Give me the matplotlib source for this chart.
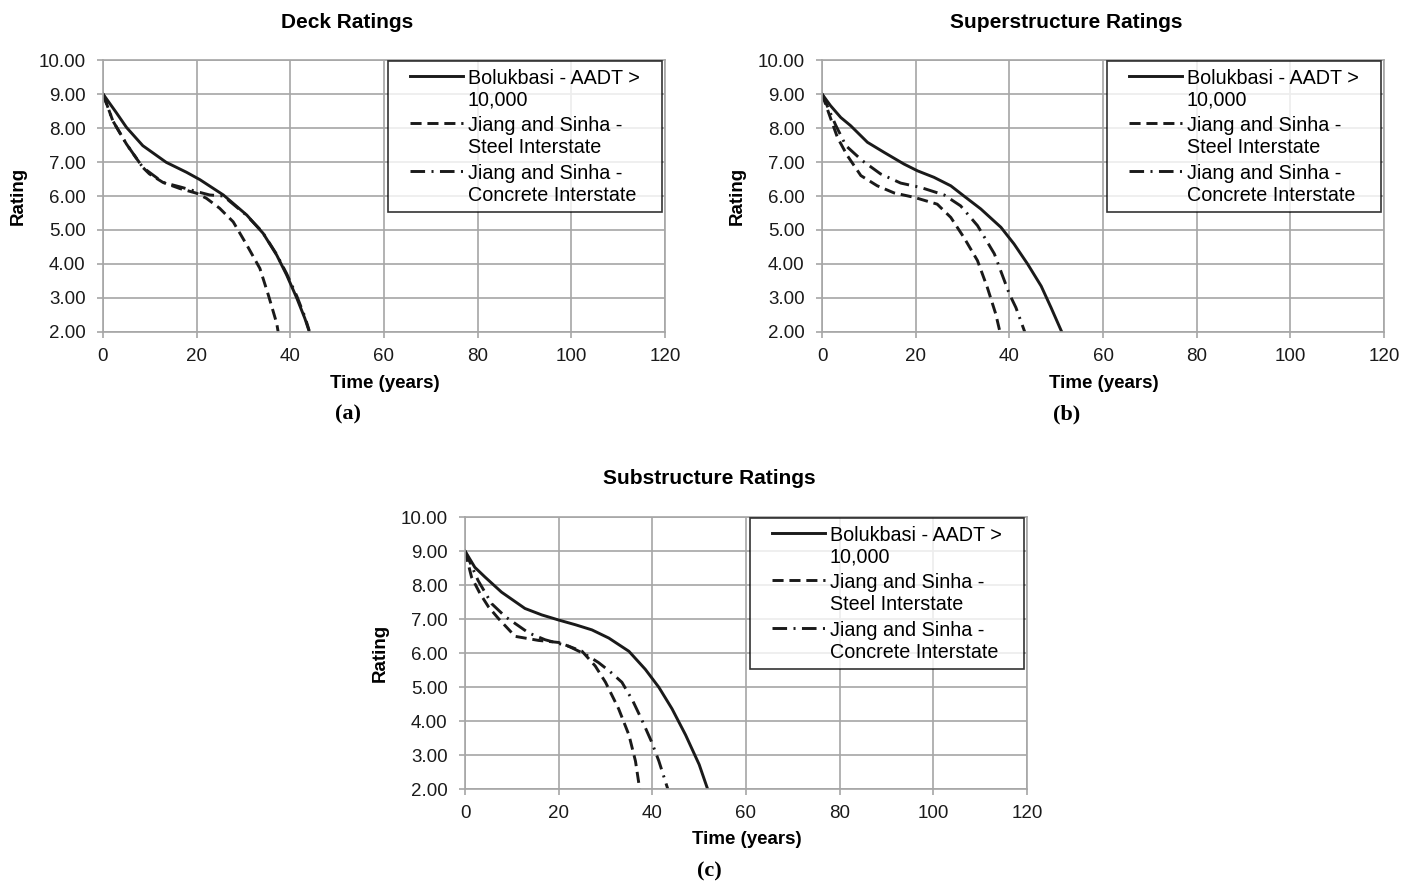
import numpy as np
import matplotlib
matplotlib.use("Agg")
import matplotlib.pyplot as plt
from matplotlib.lines import Line2D
from matplotlib.legend_handler import HandlerLine2D

plt.rcParams['font.family'] = ['Liberation Sans', 'DejaVu Sans']

deck_bol_t = [0, 2.8, 5.0, 8.5, 13.5, 17.8, 20.7, 25.7, 30.7, 34.2, 37.1, 39.2, 41.4, 43.1, 44.2]
deck_bol_r = [9.0, 8.46, 8.02, 7.48, 6.99, 6.7, 6.48, 6.03, 5.44, 4.9, 4.26, 3.68, 2.99, 2.4, 1.95]
deck_stl_t = [0, 2.1, 5.0, 8.5, 9.9, 12.8, 16.4, 20, 22.1, 24.9, 27.8, 30.7, 33.5, 35.3, 37.1, 37.4]
deck_stl_r = [9.0, 8.21, 7.53, 6.84, 6.65, 6.4, 6.22, 6.08, 5.93, 5.64, 5.24, 4.56, 3.87, 3.09, 2.25, 2.0]
deck_con_t = [0, 2.1, 5.0, 8.5, 12.8, 16.4, 20, 22.8, 25.7, 30.5, 34, 37, 39.2, 41.4, 43.1, 44.0]
deck_con_r = [9.0, 8.21, 7.53, 6.84, 6.4, 6.27, 6.13, 6.03, 6.0, 5.45, 4.95, 4.3, 3.72, 3.05, 2.45, 2.05]

sup_bol_t = [0, 1.8, 4.0, 6.1, 9.7, 13.3, 17.5, 20.4, 23.9, 27.5, 30.3, 33.9, 38.2, 41.0, 43.9, 46.8, 48.9, 51.2]
sup_bol_r = [9.0, 8.66, 8.31, 8.07, 7.58, 7.28, 6.94, 6.74, 6.55, 6.3, 6.0, 5.62, 5.08, 4.59, 4.0, 3.35, 2.72, 2.0]
sup_stl_t = [0, 1.9, 3.3, 5.4, 8.3, 11.8, 15.4, 19.7, 24.6, 27.5, 30.3, 33.2, 35.3, 37.1, 38.0]
sup_stl_r = [9.0, 8.26, 7.72, 7.19, 6.6, 6.3, 6.09, 5.96, 5.76, 5.37, 4.78, 4.1, 3.31, 2.53, 2.0]
sup_con_t = [0, 2.9, 5.1, 8.6, 12.5, 16.8, 21.1, 26.1, 29.6, 33.2, 36.8, 40.0, 41.4, 43.3]
sup_con_r = [9.0, 8.09, 7.48, 7.04, 6.65, 6.38, 6.25, 6.03, 5.71, 5.13, 4.3, 3.12, 2.72, 2.0]

sub_bol_t = [0, 2.1, 4.3, 7.8, 12.8, 16.4, 20, 23.6, 27.1, 30.7, 35, 38.5, 41.4, 44.2, 47.1, 50, 51.8]
sub_bol_r = [9.0, 8.52, 8.23, 7.79, 7.31, 7.12, 6.97, 6.83, 6.68, 6.44, 6.05, 5.52, 4.99, 4.36, 3.59, 2.72, 2.0]
sub_stl_t = [0, 1.4, 3.2, 5, 7.1, 10.7, 15.7, 20, 25, 27.8, 30, 32.8, 35, 36.4, 37.3]
sub_stl_r = [9.0, 8.23, 7.75, 7.36, 7.02, 6.49, 6.37, 6.31, 6.05, 5.62, 5.14, 4.36, 3.59, 2.82, 2.0]
sub_con_t = [0, 2.8, 5.7, 8.6, 13.6, 17.1, 22.1, 25.7, 28.5, 31.0, 33.5, 35.8, 37.8, 39.8, 41.4, 43.3]
sub_con_r = [9.0, 8.13, 7.45, 7.07, 6.59, 6.39, 6.2, 5.96, 5.72, 5.45, 5.14, 4.6, 4.02, 3.4, 2.82, 2.0]

labels = ['Bolukbasi - AADT >\n10,000',
          'Jiang and Sinha -\nSteel Interstate',
          'Jiang and Sinha -\nConcrete Interstate']
xticks = [0, 20, 40, 60, 80, 100, 120]
yticks = [2, 3, 4, 5, 6, 7, 8, 9, 10]

W, H = 1403, 882
fig = plt.figure(figsize=(W / 100, H / 100), dpi=100)

gc = '#a6a6a6'
lw = 2.1
styles = ['-', (0, (3.8, 2.0)), (0, (5.0, 2.2, 0.7, 2.2))]


def panel(x0, y0, title, sub, data):
    # x0, y0: left and top of the plot area in pixels
    ax = fig.add_axes([x0 / W, 1 - (y0 + 272) / H, 562 / W, 272 / H])
    for (t, r), ls in zip(data, styles):
        ax.plot(t, r, color='#1a1a1a', lw=lw, linestyle=ls,
                solid_joinstyle='round', dash_joinstyle='round')
    ax.set_xlim(0, 120)
    ax.set_ylim(2, 10)
    ax.set_xticks(xticks)
    ax.set_yticks(yticks)
    ax.set_yticklabels(['%.2f' % v for v in yticks])
    ax.grid(True, color=gc, lw=1.2)
    for s in ax.spines.values():
        s.set_color(gc)
        s.set_linewidth(1.2)
    ax.tick_params(colors=gc, labelcolor='#1a1a1a', labelsize=13.5,
                   length=4.5, width=1.2, direction='out')
    ax.tick_params(axis='y', pad=8)
    ax.tick_params(axis='x', pad=7)
    leg = ax.legend(labels, loc='upper right', fontsize=14.2, frameon=True,
                    fancybox=False, mode='expand',
                    bbox_to_anchor=(0.507, 0.5, 0.4875, 0.496),
                    borderaxespad=0, handlelength=3.4,
                    handler_map={Line2D: HandlerLine2D(xpad=0.7)},
                    handletextpad=0.25, labelspacing=0.32, borderpad=0.4)
    leg.get_frame().set_edgecolor('black')
    leg.get_frame().set_linewidth(1.2)
    # put each legend line next to the first line of its label
    for col in leg._legend_handle_box.get_children():
        for row in col.get_children():
            row.align = 'top'
    cx = (x0 - 85 + x0 + 562) / 2 + 6
    fig.text(cx / W, 1 - (y0 - 38) / H, title, ha='center', va='center',
             fontsize=15, fontweight='bold')
    fig.text((x0 + 282) / W, 1 - (y0 + 323) / H, 'Time (years)', ha='center',
             va='center', fontsize=13.5, fontweight='bold')
    fig.text(cx / W, 1 - (y0 + 354) / H, sub, ha='center', va='center',
             fontsize=16, fontweight='bold', family='Liberation Serif')
    fig.text((x0 - 85) / W, 1 - (y0 + 136) / H, 'Rating', rotation=90,
             ha='center', va='center', fontsize=13.5, fontweight='bold')
    return ax


panel(103, 60, 'Deck Ratings', '(a)',
      [(deck_bol_t, deck_bol_r), (deck_stl_t, deck_stl_r), (deck_con_t, deck_con_r)])
panel(822, 60, 'Superstructure Ratings', '(b)',
      [(sup_bol_t, sup_bol_r), (sup_stl_t, sup_stl_r), (sup_con_t, sup_con_r)])
panel(465, 517, 'Substructure Ratings', '(c)',
      [(sub_bol_t, sub_bol_r), (sub_stl_t, sub_stl_r), (sub_con_t, sub_con_r)])

fig.savefig('out.png', dpi=100)
